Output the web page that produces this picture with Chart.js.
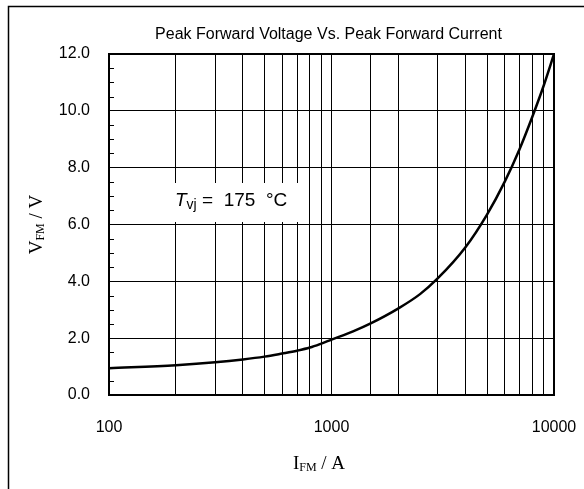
<!DOCTYPE html>
<html>
<head>
<meta charset="utf-8">
<script src="https://cdn.jsdelivr.net/npm/chart.js@4/dist/chart.umd.min.js"></script>
<style>
  html, body { margin: 0; padding: 0; background: #fff; }
  #wrap { width: 584px; height: 489px; }
</style>
</head>
<body>
<div id="wrap"><canvas id="grafico" width="584" height="489"></canvas></div>
<script>
// dados (I_FM em A, V_FM em V)
const correntes = [100, 200, 300, 400, 500, 600, 700, 800, 900, 1000, 1250, 1500, 2000, 2500, 3000, 4000, 5000, 6000, 7000, 8000, 9000, 10000];
const tensoes = [0.94, 1.05, 1.15, 1.25, 1.35, 1.46, 1.56, 1.67, 1.81, 1.95, 2.24, 2.52, 3.05, 3.55, 4.1, 5.2, 6.35, 7.5, 8.65, 9.8, 10.9, 12.0];
const rotulosX = [100, 1000, 10000];
const passoY = 2;
const yMax = 12;
const titulo = 'Peak Forward Voltage Vs. Peak Forward Current';

const fonteSans = "'Liberation Sans', Arial, sans-serif";
const fonteSerif = "'Liberation Serif', 'Times New Roman', serif";

// desenha texto com subscrito, retorna largura total
function textoSub(ctx, partes, x, y) {
    let cx = x;
    partes.forEach(p => {
        ctx.font = p.font;
        ctx.fillText(p.t, cx, y + (p.dy || 0));
        cx += ctx.measureText(p.t).width;
    });
    return cx - x;
}
function larguraSub(ctx, partes) {
    let w = 0;
    partes.forEach(p => { ctx.font = p.font; w += ctx.measureText(p.t).width; });
    return w;
}

const extras = {
    id: 'extras',
    beforeDatasetsDraw(chart) {
        const ctx = chart.ctx;
        const a = chart.chartArea;
        const y = chart.scales.y;
        ctx.save();
        // caixa branca da anotação
        ctx.fillStyle = '#fff';
        ctx.fillRect(166, 183, 137, 39);
        // marcas menores no eixo y
        ctx.strokeStyle = '#000';
        ctx.lineWidth = 1;
        for (let v = 0.5; v < yMax; v += 0.5) {
            if (Math.abs(v % passoY) < 1e-6) continue;
            const py = Math.round(y.getPixelForValue(v)) + 0.5;
            ctx.beginPath();
            ctx.moveTo(a.left, py);
            ctx.lineTo(a.left + 5, py);
            ctx.stroke();
        }
        // anotação T_vj
        ctx.fillStyle = '#000';
        ctx.textBaseline = 'alphabetic';
        textoSub(ctx, [
            { t: 'T', font: "italic 19px " + fonteSans },
            { t: 'vj', font: "14px " + fonteSans, dy: 3 },
            { t: ' =  175  °C', font: "19px " + fonteSans }
        ], 175, 206);
        ctx.restore();
    },
    afterDraw(chart) {
        const ctx = chart.ctx;
        const a = chart.chartArea;
        ctx.save();
        // moldura do gráfico
        ctx.strokeStyle = '#000';
        ctx.lineWidth = 2;
        ctx.strokeRect(a.left, a.top, a.right - a.left, a.bottom - a.top);
        // moldura externa
        ctx.lineWidth = 1.5;
        ctx.beginPath();
        ctx.moveTo(8.5, 489);
        ctx.lineTo(8.5, 6.5);
        ctx.lineTo(584, 6.5);
        ctx.stroke();
        // título
        ctx.fillStyle = '#000';
        ctx.font = "16px " + fonteSans;
        ctx.textAlign = 'center';
        ctx.textBaseline = 'alphabetic';
        ctx.fillText(titulo, (a.left + a.right) / 2 - 3, 39);
        // título eixo x
        ctx.textAlign = 'left';
        const px = [
            { t: 'I', font: "19px " + fonteSerif },
            { t: 'FM', font: "12px " + fonteSerif, dy: 2 },
            { t: ' / A', font: "19px " + fonteSerif }
        ];
        const wx = larguraSub(ctx, px);
        textoSub(ctx, px, 319 - wx / 2, 469);
        // título eixo y
        const py = [
            { t: 'V', font: "19px " + fonteSerif },
            { t: 'FM', font: "12px " + fonteSerif, dy: 2 },
            { t: ' / V', font: "19px " + fonteSerif }
        ];
        const wy = larguraSub(ctx, py);
        ctx.translate(42, (a.top + a.bottom) / 2);
        ctx.rotate(-Math.PI / 2);
        textoSub(ctx, py, -wy / 2, 0);
        ctx.restore();
    }
};

new Chart(document.getElementById('grafico').getContext('2d'), {
    type: 'line',
    data: {
        datasets: [{
            data: correntes.map((c, i) => ({ x: c, y: tensoes[i] })),
            borderColor: '#000',
            borderWidth: 2.5,
            pointRadius: 0,
            fill: false,
            cubicInterpolationMode: 'monotone'
        }]
    },
    options: {
        responsive: false,
        animation: false,
        events: [],
        layout: { padding: { top: 54, right: 30, left: 0, bottom: 0 } },
        plugins: { legend: { display: false }, tooltip: { enabled: false }, title: { display: false } },
        scales: {
            x: {
                type: 'logarithmic',
                min: 100,
                max: 10000,
                afterFit(s) { s.height = 94; s.paddingLeft = 0; s.paddingRight = 0; },
                grid: { color: '#000', lineWidth: 1, drawTicks: false },
                border: { color: '#000', width: 2 },
                ticks: {
                    autoSkip: false,
                    maxRotation: 0,
                    padding: 23,
                    color: '#000',
                    font: { family: fonteSans, size: 16 },
                    callback: v => rotulosX.includes(v) ? String(v) : ''
                }
            },
            y: {
                min: 0,
                max: yMax,
                afterFit(s) { s.width = 109; s.paddingTop = 0; s.paddingBottom = 0; },
                grid: { color: '#000', lineWidth: 1, drawTicks: false },
                border: { color: '#000', width: 2 },
                ticks: {
                    stepSize: passoY,
                    padding: 19,
                    color: '#000',
                    font: { family: fonteSans, size: 16 },
                    callback: v => v.toFixed(1)
                }
            }
        }
    },
    plugins: [extras]
});
</script>
</body>
</html>
